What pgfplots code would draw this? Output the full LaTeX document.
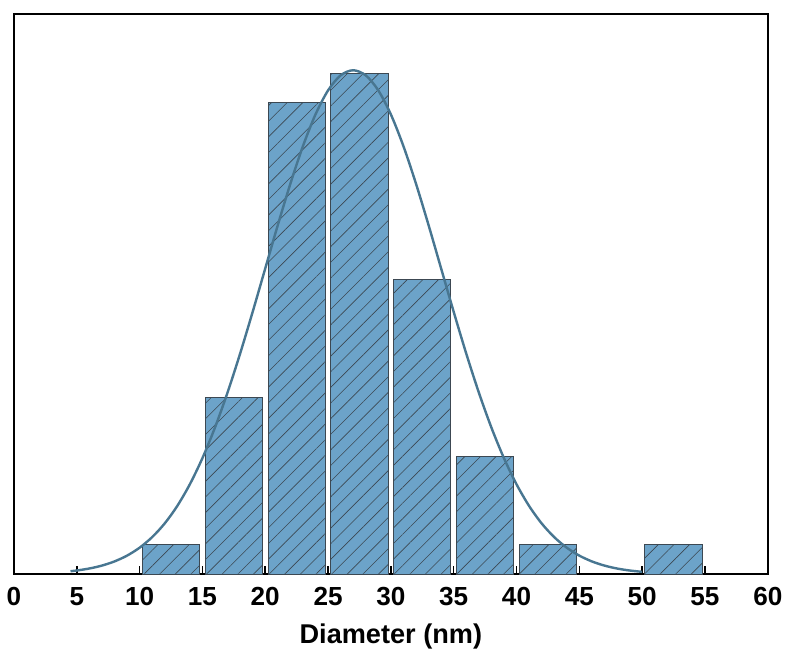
\documentclass[border={0pt 0pt 0pt 6.5pt}]{standalone}
\usepackage{fontspec}
\setmainfont{Liberation Sans}
\usepackage{pgfplots}
\pgfplotsset{compat=1.18}
\usetikzlibrary{patterns.meta}
\definecolor{barfill}{RGB}{108,163,201}
\definecolor{baredge}{RGB}{60,72,82}
\definecolor{fitline}{RGB}{72,118,145}
\begin{document}
\begin{tikzpicture}
\begin{axis}[
  width=375pt, height=278.5pt,
  scale only axis,
  xmin=0, xmax=60, ymin=0, ymax=19,
  xtick={0,5,...,60},
  ytick=\empty,
  tick align=inside,
  xtick pos=bottom,
  major tick length=4pt,
  axis line style={line width=1.2pt},
  every tick/.style={black, line width=0.8pt},
  tick label style={font=\bfseries\fontsize{13}{15}\selectfont},
  xticklabel style={yshift=-3pt},
  /pgf/number format/assume math mode=true,
  xlabel={\bfseries Diameter (nm)},
  xlabel style={font=\bfseries\fontsize{13.5}{15}\selectfont, yshift=-2pt},
  clip=false,
]
\addplot[ybar, bar width=4.55, bar shift=0pt, draw=baredge, line width=0.5pt,
  fill=barfill,
  postaction={pattern={Lines[angle=45,distance=5.5pt,line width=0.3pt]}, pattern color=baredge}]
coordinates {
  (12.5,1) (17.5,6) (22.5,16) (27.5,17) (32.5,10) (37.5,4) (42.5,1) (52.5,1)
};
\addplot[smooth, fitline, line width=1.2pt] coordinates {
  (4.5,0.098) (5,0.122) (6,0.190) (7,0.289) (8,0.430) (9,0.627) (10,0.896)
  (11,1.255) (12,1.721) (13,2.314) (14,3.049) (15,3.935) (16,4.975) (17,6.163)
  (18,7.483) (19,8.901) (20,10.372) (21,11.844) (22,13.249) (23,14.523)
  (24,15.600) (25,16.416) (26,16.927) (27,17.1) (28,16.927) (29,16.416)
  (30,15.600) (31,14.523) (32,13.249) (33,11.844) (34,10.372) (35,8.901)
  (36,7.483) (37,6.163) (38,4.975) (39,3.935) (40,3.049) (41,2.314)
  (42,1.721) (43,1.255) (44,0.896) (45,0.627) (46,0.430) (47,0.289)
  (48,0.190) (49,0.122) (50,0.077)
};
\end{axis}
\end{tikzpicture}
\end{document}
